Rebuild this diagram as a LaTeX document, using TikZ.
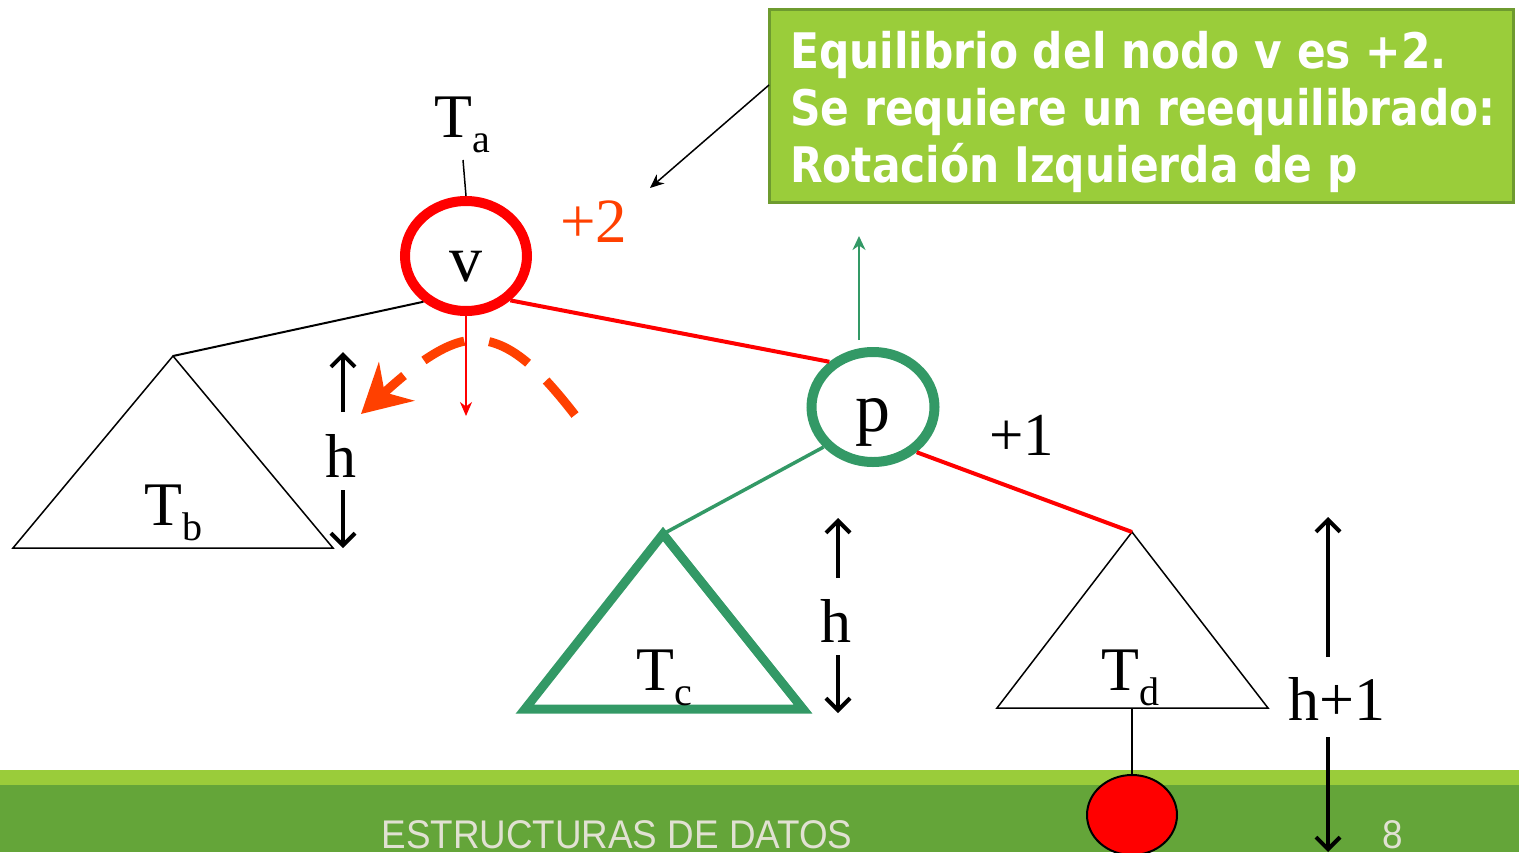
\documentclass[tikz,border=0pt]{standalone}
\usepackage{fontspec}
\setmainfont{Liberation Serif}
\newfontfamily\boxfont[FakeStretch=0.865]{DejaVu Sans}
\newfontfamily\footfont[FakeStretch=0.92]{Liberation Sans}
\usetikzlibrary{arrows.meta,shapes.geometric}
\definecolor{barlight}{RGB}{154,204,58}
\definecolor{bardark}{RGB}{100,165,57}
\definecolor{boxfill}{RGB}{154,205,58}
\definecolor{boxborder}{RGB}{110,155,47}
\definecolor{foottext}{RGB}{225,225,210}
\definecolor{pgreen}{RGB}{51,153,102}
\definecolor{orng}{RGB}{255,64,0}
\tikzset{
  big/.style={font=\fontsize{62}{62}\selectfont},
  treenode/.style={ellipse, minimum width=122pt, minimum height=110pt, inner sep=0pt, text height=0pt, text depth=0pt, font=\fontsize{70}{70}\selectfont},
  harrow/.style={line width=4pt, -{Straight Barb[length=12pt,width=24pt]}},
  boxline/.style={anchor=base west, text=white, font=\boxfont\bfseries\fontsize{49}{49}\selectfont, inner sep=0pt},
  tri/.style={line join=miter},
}
\newcommand{\sbs}[1]{\raisebox{-0.25em}{\fontsize{40}{40}\selectfont #1}}
\begin{document}
\begin{tikzpicture}[x=1pt,y=-1pt]
\useasboundingbox (0,0) rectangle (1519,852);
% bottom bar
\fill[barlight] (0,770) rectangle (1519,785);
\fill[bardark] (0,785) rectangle (1519,852);
\node[anchor=base, text=foottext, font=\footfont\fontsize{40}{40}\selectfont, inner sep=0pt] (foot) at (617,848) {ESTRUCTURAS DE DATOS};
\node[anchor=base, text=foottext, font=\footfont\fontsize{40}{40}\selectfont, inner sep=0pt] (pnum) at (1393,848) {8};

% callout box
\node[draw=boxborder, line width=2.5pt, fill=boxfill, anchor=north west, minimum width=744pt, minimum height=193pt, inner sep=0pt] (box) at (768,8) {};
\node[boxline] (l1) at (790,68) {Equilibrio del nodo v es +2.};
\node[boxline] (l2) at (790,125) {Se requiere un reequilibrado:};
\node[boxline] (l3) at (790,182) {Rotación Izquierda de p};
\coordinate (cstart) at (769,85);
\coordinate (ctip) at (650,188);
\draw[line width=1.5pt, -{Stealth[length=14pt,width=12pt]}] (cstart) -- (ctip);

% tree nodes
\node[treenode, draw=red, line width=10pt, font=\fontsize{66}{66}\selectfont] (v) at (466,256) {\raisebox{-25pt}{v}};
\node[treenode, draw=pgreen, line width=10pt, minimum width=123pt] (p) at (873,407) {\raisebox{-24pt}{p}};
\node[anchor=base west, big, inner sep=0pt] (ta) at (434,137) {T\sbs{a}};
\coordinate (tatail) at (463,160);
\draw[line width=1.5pt] (tatail) -- (v.north);

\node[anchor=base west, text=orng, font=\fontsize{63}{63}\selectfont, inner sep=0pt] (plus2) at (560,242) {+2};
\node[anchor=base west, font=\fontsize{61}{61}\selectfont, inner sep=0pt] (plus1) at (989,455) {+1};

% triangles
\coordinate (tbtop) at (173,356);
\coordinate (tbl) at (13,548);
\coordinate (tbr) at (333,548);
\draw[line width=1.5pt, tri] (tbtop) -- (tbl) -- (tbr) -- cycle;
\node[anchor=base west, big, inner sep=0pt] (tb) at (144,525) {T\sbs{b}};

\coordinate (tctop) at (663,534);
\coordinate (tcl) at (525,709);
\coordinate (tcr) at (803,709);
\draw[line width=9pt, draw=pgreen, tri] (tctop) -- (tcl) -- (tcr) -- cycle;
\node[anchor=base west, big, inner sep=0pt] (tc) at (636,690) {T\sbs{c}};

\coordinate (tdtop) at (1132,532);
\coordinate (tdl) at (997,708);
\coordinate (tdr) at (1268,708);
\coordinate (tdbase) at (1132,708);
\draw[line width=1.5pt, tri] (tdtop) -- (tdl) -- (tdr) -- cycle;
\node[anchor=base west, big, inner sep=0pt] (td) at (1101,690) {T\sbs{d}};

% edges
\draw[line width=2pt] (v.227) -- (tbtop);
\draw[line width=4pt, red] (v.315) -- (p.134);
\draw[line width=3.5pt, pgreen] (p.219) -- (tctop);
\draw[line width=4pt, red] (p.314) -- (tdtop);

% red down arrow from v
\coordinate (vdown) at (466,416);
\draw[line width=2pt, red, -{Stealth[length=14pt,width=12pt]}] (v.south) -- (vdown);
% green up arrow above p
\coordinate (gstart) at (859,340);
\coordinate (gend) at (859,236);
\draw[line width=2.5pt, pgreen, -{Stealth[length=14pt,width=13pt]}] (gstart) -- (gend);

% dashed rotation arc
\coordinate (arcs) at (575,415);
\coordinate (arctop) at (475,340);
\coordinate (arce) at (361,414);
\draw[orng, line width=9pt, dash pattern=on 45pt off 25pt, -{Stealth[length=48pt,width=52pt,inset=16pt]}]
  (arcs) .. controls (540,370) and (510,340) .. (arctop) .. controls (450,340) and (420,360) .. (arce);

% height arrows
\coordinate (hb1) at (343,412); \coordinate (hb2) at (343,352);
\coordinate (hb3) at (343,490); \coordinate (hb4) at (343,548);
\draw[harrow] (hb1) -- (hb2);
\draw[harrow] (hb3) -- (hb4);
\node[anchor=base, big, inner sep=0pt] (hlb) at (341,477) {h};

\coordinate (hc1) at (838,578); \coordinate (hc2) at (838,518);
\coordinate (hc3) at (838,655); \coordinate (hc4) at (838,713);
\draw[harrow] (hc1) -- (hc2);
\draw[harrow] (hc3) -- (hc4);
\node[anchor=base, big, inner sep=0pt] (hlc) at (836,642) {h};

\coordinate (hd1) at (1328,657); \coordinate (hd2) at (1328,517);
\coordinate (hd3) at (1328,737); \coordinate (hd4) at (1328,852);
\draw[harrow] (hd1) -- (hd2);
\draw[harrow] (hd3) -- (hd4);
\node[anchor=base, big, inner sep=0pt] (hld) at (1337,720) {h+1};

% red ball below Td
\node[ellipse, draw=black, line width=2pt, fill=red, minimum width=90pt, minimum height=80pt, inner sep=0pt] (ball) at (1132,815) {};
\draw[line width=1.5pt] (tdbase) -- (ball.north);
\end{tikzpicture}
\end{document}
